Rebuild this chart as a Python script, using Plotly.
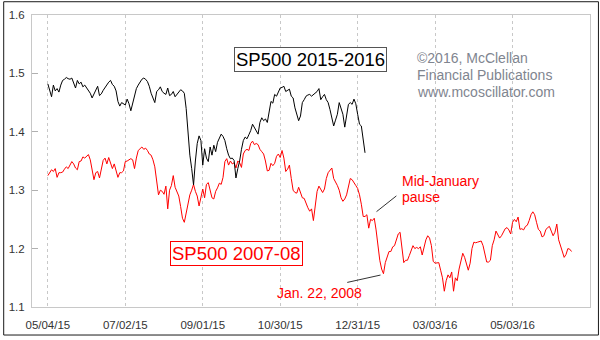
import plotly.graph_objects as go

# Ratio series, one value per trading day starting 05/04/15
sp500_2015_16 = [
    1.482, 1.470, 1.460, 1.480, 1.470, 1.474, 1.468, 1.480, 1.488, 1.490,
    1.493, 1.491, 1.490, 1.492, 1.484, 1.475, 1.488, 1.482, 1.485, 1.477,
    1.480, 1.476, 1.472, 1.466, 1.458, 1.465, 1.470, 1.478, 1.462, 1.465,
    1.471, 1.476, 1.480, 1.485, 1.488, 1.481, 1.478, 1.470, 1.452, 1.444,
    1.450, 1.448, 1.446, 1.456, 1.448, 1.436, 1.448, 1.462, 1.474, 1.480,
    1.486, 1.490, 1.492, 1.490, 1.486, 1.478, 1.466, 1.458, 1.450, 1.469,
    1.472, 1.477, 1.469, 1.466, 1.464, 1.475, 1.462, 1.464, 1.469, 1.460,
    1.464, 1.467, 1.472, 1.470, 1.466, 1.440, 1.400, 1.360, 1.337, 1.309,
    1.350, 1.380, 1.393, 1.385, 1.343, 1.371, 1.355, 1.349, 1.374, 1.360,
    1.377, 1.366, 1.382, 1.390, 1.396, 1.392, 1.385, 1.371, 1.360, 1.354,
    1.355, 1.351, 1.321, 1.337, 1.350, 1.370, 1.385, 1.391, 1.388, 1.395,
    1.402, 1.413, 1.407, 1.402, 1.396, 1.416, 1.424, 1.419, 1.422, 1.416,
    1.438, 1.452, 1.449, 1.464, 1.461, 1.468, 1.475, 1.476, 1.478, 1.469,
    1.471, 1.473, 1.461, 1.458, 1.441, 1.430, 1.419, 1.427, 1.450, 1.455,
    1.461, 1.463, 1.464, 1.461, 1.464, 1.466, 1.469, 1.474, 1.455, 1.460,
    1.464, 1.455, 1.450, 1.438, 1.425, 1.410, 1.420, 1.430, 1.450, 1.440,
    1.430, 1.408, 1.430, 1.447, 1.450, 1.447, 1.456, 1.448, 1.430, 1.413,
    1.410, 1.385, 1.364,
]

sp500_2007_08 = [
    1.325, 1.330, 1.335, 1.332, 1.337, 1.322, 1.330, 1.330, 1.331, 1.336,
    1.340, 1.337, 1.344, 1.349, 1.345, 1.338, 1.335, 1.349, 1.350, 1.357,
    1.355, 1.358, 1.361, 1.352, 1.337, 1.318, 1.330, 1.332, 1.321, 1.335,
    1.351, 1.355, 1.345, 1.356, 1.346, 1.337, 1.345, 1.332, 1.322, 1.330,
    1.330, 1.333, 1.349, 1.350, 1.352, 1.354, 1.352, 1.337, 1.355, 1.368,
    1.371, 1.374, 1.370, 1.372, 1.368, 1.362, 1.360, 1.352, 1.340, 1.318,
    1.292, 1.300, 1.298, 1.293, 1.307, 1.268, 1.300, 1.308, 1.325, 1.305,
    1.298, 1.290, 1.272, 1.252, 1.245, 1.262, 1.280, 1.292, 1.300, 1.310,
    1.298, 1.290, 1.273, 1.290, 1.302, 1.287, 1.310, 1.313, 1.300, 1.287,
    1.285, 1.298, 1.304, 1.312, 1.310, 1.322, 1.349, 1.354, 1.343, 1.350,
    1.345, 1.347, 1.338, 1.350, 1.347, 1.339, 1.362, 1.368, 1.370, 1.368,
    1.380, 1.384, 1.378, 1.380, 1.378, 1.370, 1.366, 1.362, 1.350, 1.333,
    1.334, 1.346, 1.342, 1.346, 1.358, 1.362, 1.356, 1.368, 1.355, 1.332,
    1.336, 1.343, 1.320, 1.300, 1.296, 1.295, 1.305, 1.296, 1.287, 1.286,
    1.276, 1.270, 1.264, 1.268, 1.248, 1.275, 1.298, 1.307, 1.302, 1.296,
    1.302, 1.320, 1.330, 1.334, 1.338, 1.320, 1.315, 1.308, 1.300, 1.287,
    1.281, 1.285, 1.292, 1.305, 1.320, 1.318, 1.312, 1.308, 1.303, 1.292,
    1.276, 1.255, 1.255, 1.258, 1.235, 1.250, 1.248, 1.252, 1.232, 1.205,
    1.180, 1.165, 1.157, 1.176, 1.186, 1.195, 1.195, 1.203, 1.205, 1.214,
    1.225, 1.228, 1.205, 1.176, 1.180, 1.180, 1.188, 1.195, 1.205, 1.200,
    1.202, 1.200, 1.203, 1.189, 1.205, 1.215, 1.222, 1.218, 1.205, 1.178,
    1.175, 1.175, 1.176, 1.163, 1.150, 1.127, 1.145, 1.155, 1.150, 1.160,
    1.127, 1.150, 1.145, 1.165, 1.180, 1.192, 1.185, 1.175, 1.163, 1.175,
    1.200, 1.211, 1.210, 1.211, 1.212, 1.213, 1.205, 1.190, 1.177, 1.177,
    1.180, 1.205, 1.215, 1.230, 1.225, 1.218, 1.222, 1.228, 1.234, 1.236,
    1.232, 1.225, 1.245, 1.250, 1.246, 1.254, 1.233, 1.234, 1.232, 1.238,
    1.240, 1.248, 1.258, 1.263, 1.258, 1.245, 1.233, 1.230, 1.220, 1.222,
    1.232, 1.236, 1.238, 1.230, 1.222, 1.228, 1.242, 1.215, 1.205, 1.198,
    1.185, 1.190, 1.200, 1.199, 1.195,
]

# Axis labels fall every 42 trading days
tick_labels = ["05/04/15", "07/02/15", "09/01/15", "10/30/15",
               "12/31/15", "03/03/16", "05/03/16"]
TICK_STEP = 42

y_ticks = [1.1, 1.2, 1.3, 1.4, 1.5, 1.6]

# Pixel layout of the plotting area inside the 600x340 page
W, H = 600, 340
L, R, T, B = 29, 9, 14, 29
PW, PH = W - L - R, H - T - B


def px(x):
    return (x - L) / PW


def py(y):
    return (H - B - y) / PH


FONT = "Liberation Sans, Arial, sans-serif"
RED = "#ff0000"

fig = go.Figure()
fig.add_trace(go.Scatter(
    x=list(range(len(sp500_2007_08))), y=sp500_2007_08,
    mode="lines", line=dict(color=RED, width=1), hoverinfo="skip",
    name="SP500 2007-08"))
fig.add_trace(go.Scatter(
    x=list(range(len(sp500_2015_16))), y=sp500_2015_16,
    mode="lines", line=dict(color="#000000", width=1), hoverinfo="skip",
    name="SP500 2015-2016"))

tick_vals = [i * TICK_STEP for i in range(len(tick_labels))]

fig.update_layout(
    width=W, height=H,
    margin=dict(l=L, r=R, t=T, b=B, pad=0),
    paper_bgcolor="white", plot_bgcolor="white",
    showlegend=False,
    font=dict(family=FONT, size=11, color="#333333"),
    xaxis=dict(
        range=[-8.6, 294], tickvals=tick_vals, ticktext=tick_labels,
        showgrid=True, gridcolor="#c8c8c8", griddash="dot", gridwidth=1,
        zeroline=False, showline=True, linecolor="#c8c8c8", linewidth=1,
        mirror=True, ticks="", ticklabelstandoff=7,
        tickfont=dict(family=FONT, size=11.5, color="#333333"),
    ),
    yaxis=dict(
        range=[1.1, 1.6], tickvals=y_ticks, tickformat=".1f",
        showgrid=False, zeroline=False, showline=True, linecolor="#c8c8c8",
        linewidth=1, mirror=True, ticks="inside", ticklen=6,
        tickcolor="#b0b0b0", ticklabelstandoff=4,
        tickfont=dict(family=FONT, size=11.5, color="#333333"),
    ),
)

# Pointer lines to the red series
fig.add_shape(type="line", xref="paper", yref="paper",
              x0=px(376), y0=py(214), x1=px(396), y1=py(198),
              line=dict(color="#333333", width=1))
fig.add_shape(type="line", xref="paper", yref="paper",
              x0=px(346.5), y0=py(286), x1=px(380), y1=py(278.5),
              line=dict(color="#333333", width=1))

# Outer frame of the page
fig.add_shape(type="rect", xref="paper", yref="paper",
              x0=px(0.5), y0=py(339.5), x1=px(599.5), y1=py(0.5),
              line=dict(color="#1a1a1a", width=1), layer="above")

# Series labels in boxes
fig.add_annotation(text="SP500 2015-2016", xref="paper", yref="paper",
                   x=px(309.5), y=py(59), xanchor="center", yanchor="middle",
                   showarrow=False,
                   font=dict(family=FONT, size=18.5, color="#000000"),
                   bgcolor="white", bordercolor="#555555", borderwidth=1,
                   borderpad=1)
fig.add_annotation(text="SP500 2007-08", xref="paper", yref="paper",
                   x=px(234.5), y=py(256.5), xanchor="center",
                   yanchor="middle", showarrow=False,
                   font=dict(family=FONT, size=18.5, color=RED),
                   bgcolor="white", bordercolor=RED, borderwidth=1,
                   borderpad=1)

# Copyright block
for text, yc in [("©2016, McClellan", 58),
                 ("Financial Publications", 75.5),
                 ("www.mcoscillator.com", 92.5)]:
    fig.add_annotation(text=text, xref="paper", yref="paper",
                       x=px(416), y=py(yc), xanchor="left", yanchor="middle",
                       showarrow=False, borderpad=0,
                       font=dict(family=FONT, size=14, color="#7f858f"))

# Callout texts
for text, xl, yc in [("Mid-January", 401, 183), ("pause", 401, 199)]:
    fig.add_annotation(text=text, xref="paper", yref="paper",
                       x=px(xl), y=py(yc), xanchor="left", yanchor="middle",
                       showarrow=False, borderpad=0,
                       font=dict(family=FONT, size=14, color=RED))
fig.add_annotation(text="Jan. 22, 2008", xref="paper", yref="paper",
                   x=px(319), y=py(297), xanchor="center", yanchor="middle",
                   showarrow=False, borderpad=0,
                   font=dict(family=FONT, size=14, color=RED))

fig.write_html("out.html", config={"displayModeBar": False})
